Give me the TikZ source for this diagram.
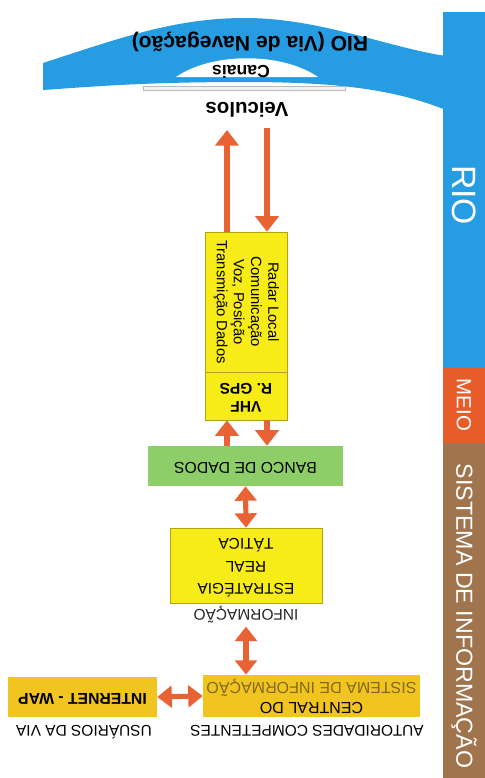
\documentclass[tikz,border=0pt]{standalone}
\usepackage{fontspec}
\setmainfont{Liberation Sans}
\usepackage{graphicx}
\usetikzlibrary{arrows.meta}
\definecolor{rvblue}{RGB}{38, 156, 226}
\definecolor{rvorange}{RGB}{232, 92, 42}
\definecolor{rvbrown}{RGB}{160, 117, 78}
\definecolor{rvyellow}{RGB}{248, 236, 24}
\definecolor{rvgold}{RGB}{242, 196, 32}
\definecolor{rvgreen}{RGB}{142, 206, 104}
\definecolor{rvarrow}{RGB}{232, 98, 52}
\definecolor{rvolive}{RGB}{130, 105, 30}
\newcommand{\upside}[1]{\rotatebox[origin=c]{180}{\begin{tabular}{@{}c@{}}#1\end{tabular}}}
\newcommand{\sideways}[1]{\rotatebox[origin=c]{-90}{\begin{tabular}{@{}c@{}}#1\end{tabular}}}

\begin{document}
\begin{tikzpicture}[
  x=0.025cm, y=-0.025cm,
  yelbox/.style={
    rectangle, draw=rvyellow!70!black, line width=0.4pt,
    fill=rvyellow, inner sep=0pt
  },
  goldbox/.style={rectangle, fill=rvgold, inner sep=0pt},
  greenbox/.style={rectangle, fill=rvgreen, inner sep=0pt},
  plainlabel/.style={inner sep=2pt, font=\fontsize{11}{13}\selectfont},
  riverlabel/.style={inner sep=0pt, font=\bfseries\fontsize{#1}{#1}\selectfont},
  sidelabel/.style={
    rotate=-90, inner sep=0pt, text=white,
    font=\fontsize{#1}{#1}\selectfont
  },
  flowarrow/.style={
    draw=rvarrow, line width=3.6pt,
    -{Triangle[length=3.9mm, width=5.8mm]}
  },
  dualarrow/.style={
    draw=rvarrow, line width=3.6pt,
    {Triangle[length=3.6mm, width=5.4mm]}-{Triangle[length=3.6mm, width=5.4mm]}
  },
]
\useasboundingbox (0,0) rectangle (485,778);

%% ================================================================
%% RIVER BAND
%% ================================================================
\fill[rvblue] (43,63) .. controls (120,38) and (175,18) .. (245,18)
  .. controls (320,18) and (390,48) .. (446,56) -- (446,110)
  .. controls (400,92) and (350,82) .. (245,82)
  .. controls (150,82) and (100,86) .. (43,90) -- cycle;
\fill[white] (176,77) .. controls (212,52) and (282,52) .. (318,77) -- cycle;
% vessels on the channel
\draw[gray!55, fill=gray!10, line width=0.4pt] (143,86) rectangle (345,90);

\node[riverlabel=15] (rio) at (250,41) {\upside{RIO (Via de Navegação)}};
\node[riverlabel=12.5] (canais) at (241,69) {\upside{Canais}};
\node[riverlabel=14.5] (veiculos) at (247,107) {\upside{Veiculos}};

%% ================================================================
%% SIDE BAR
%% ================================================================
\fill[rvblue]   (443,12)  rectangle (485,368);
\fill[rvorange] (443,368) rectangle (485,443);
\fill[rvbrown]  (443,443) rectangle (485,778);

\node[sidelabel=24]   (sidrio)  at (464,195) {RIO};
\node[sidelabel=14.5] (sidmeio) at (464,405) {MEIO};
\node[sidelabel=16.5] (sidsis)  at (464,616) {SISTEMA DE INFORMAÇÃO};

%% ================================================================
%% BOXES
%% ================================================================
\node[yelbox, minimum width=2.05cm, minimum height=3.5cm,
      font=\fontsize{10.5}{12.2}\selectfont] (radar) at (246,302)
  {\sideways{Radar Local\\Comunicação\\Voz, Posição\\Transmição Dados}};
\node[yelbox, minimum width=2.05cm, minimum height=1.2cm,
      font=\bfseries\fontsize{11}{12.8}\selectfont] (vhf) at (246,396)
  {\upside{VHF\\R. GPS}};

\node[greenbox, minimum width=4.875cm, minimum height=1cm,
      font=\fontsize{11.2}{13}\selectfont] (banco) at (245.5,466)
  {\upside{BANCO DE DADOS}};

\node[yelbox, minimum width=3.8cm, minimum height=1.875cm,
      font=\fontsize{11}{16}\selectfont] (estrategia) at (246,565.5)
  {\upside{ESTRATÉGIA\\REAL\\TÁTICA}};
\node[plainlabel, text=black!85] (informacao) at (246,614) {\upside{INFORMAÇÃO}};

\node[goldbox, minimum width=5.425cm, minimum height=1.05cm,
      font=\fontsize{11.4}{12.8}\selectfont] (central) at (311.5,696)
  {\upside{CENTRAL DO\\\textcolor{rvolive}{SISTEMA DE INFORMAÇÃO}}};
\node[plainlabel] (autoridades) at (307,729) {\upside{AUTORIDADES COMPETENTES}};

\node[goldbox, minimum width=3.725cm, minimum height=1cm,
      font=\bfseries\fontsize{11.2}{13}\selectfont] (internet) at (82.5,697)
  {\upside{INTERNET - WAP}};
\node[plainlabel] (usuarios) at (84,729) {\upside{USUÁRIOS DA VIA}};

%% ================================================================
%% ARROWS
%% ================================================================
\coordinate (vup)   at (227,130);
\coordinate (vdown) at (267,128);

\draw[flowarrow] (radar.north -| vup) -- (vup);
\draw[flowarrow] (vdown) -- (radar.north -| vdown);

\draw[flowarrow] (banco.north -| vup) -- (vhf.south -| vup);
\draw[flowarrow] (vhf.south -| vdown) -- (banco.north -| vdown);

\draw[dualarrow] (banco.south) -- (estrategia.north);
\draw[dualarrow] (informacao.south) -- (central.north -| informacao.south);
\draw[dualarrow] (internet.east) -- (central.west);

\end{tikzpicture}
\end{document}
